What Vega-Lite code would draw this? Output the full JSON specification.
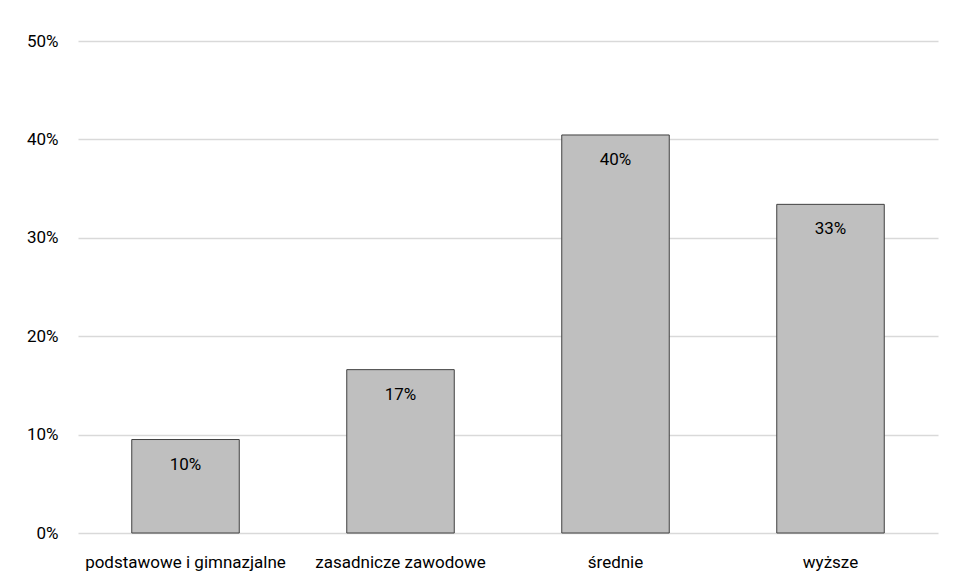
{
  "$schema": "https://vega.github.io/schema/vega-lite/v6.json",
  "autosize": {"type": "none"},
  "width": 860,
  "height": 492,
  "padding": {"left": 78, "top": 41, "right": 16, "bottom": 46},
  "background": "white",
  "config": {
    "view": {"stroke": null},
    "font": "Roboto",
    "axis": {"labelFont": "Roboto", "labelFontSize": 17, "labelColor": "#000000", "labelLimit": 0}
  },
  "data": {
    "values": [
      {"kategoria": "podstawowe i gimnazjalne", "udzial": 0.095},
      {"kategoria": "zasadnicze zawodowe", "udzial": 0.166},
      {"kategoria": "średnie", "udzial": 0.4045},
      {"kategoria": "wyższe", "udzial": 0.334}
    ]
  },
  "encoding": {
    "x": {
      "field": "kategoria", "type": "nominal", "sort": null,
      "scale": {"paddingInner": 0.5, "paddingOuter": 0.25},
      "axis": {"title": null, "labelAngle": 0, "ticks": false, "domain": false, "labelPadding": 21}
    },
    "y": {
      "field": "udzial", "type": "quantitative",
      "scale": {"domain": [0, 0.5]},
      "axis": {
        "title": null, "format": ".0%", "values": [0, 0.1, 0.2, 0.3, 0.4, 0.5],
        "ticks": false, "domain": false, "labelPadding": 20,
        "gridColor": "#d9d9d9", "gridWidth": 1.5
      }
    }
  },
  "layer": [
    {"mark": {"type": "bar", "color": "#bfbfbf", "stroke": "#404040", "strokeWidth": 1}},
    {
      "mark": {"type": "text", "font": "Roboto", "baseline": "middle", "dy": 25, "fontSize": 17, "color": "#000000"},
      "encoding": {"text": {"field": "udzial", "type": "quantitative", "format": ".0%"}}
    }
  ]
}
